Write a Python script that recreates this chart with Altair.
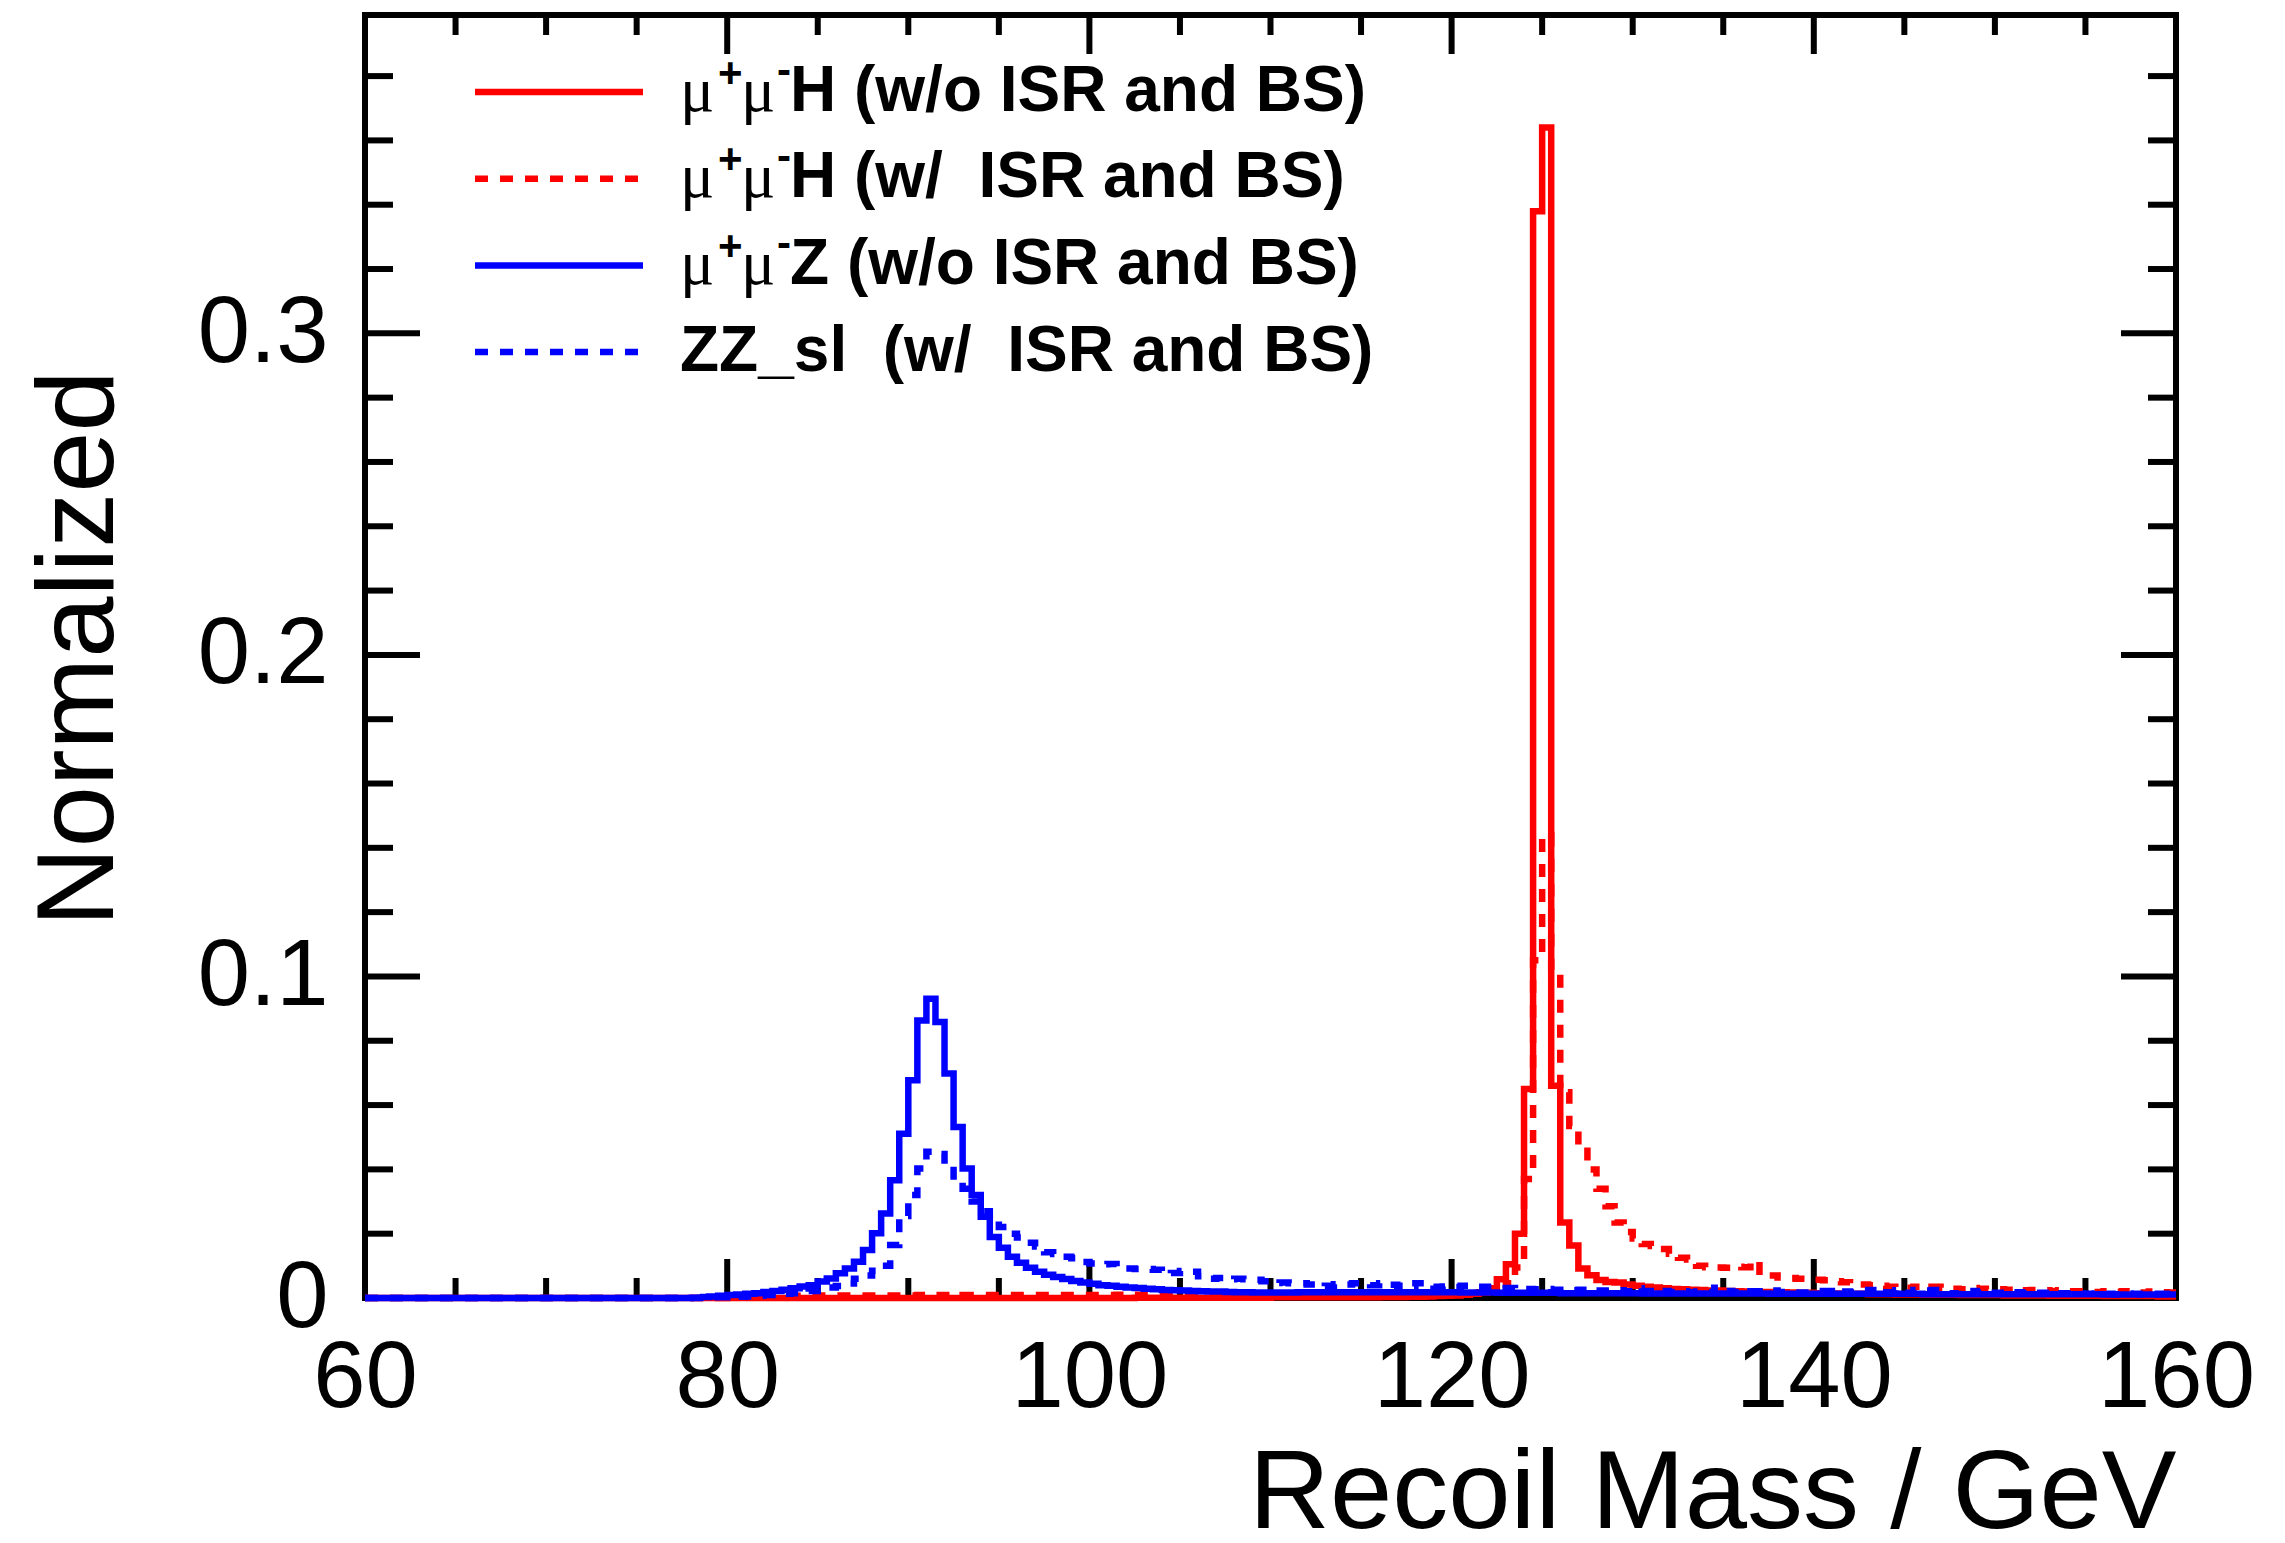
import altair as alt
import numpy as np
import pandas as pd

# ---------------- data (bin contents, 0.5 GeV bins from 60 to 160) ----------------
X_LO, X_HI, BIN_W = 60.0, 160.0, 0.5

mumuH_noISR = [
    0, 0, 0, 0, 0, 0, 0, 0, 0, 0,                                   # 60-65
    0, 0, 0, 0, 0, 0, 0, 0, 0, 0,                                   # 65-70
    0, 0, 0, 0, 0, 0, 0, 0, 0, 0,                                   # 70-75
    0, 0, 0, 0, 0, 0, 0, 0, 0, 0,                                   # 75-80
    0, 0, 0, 0, 0, 0, 0, 0, 0, 0,                                   # 80-85
    0, 0, 0, 0, 0, 0, 0, 0, 0, 0,                                   # 85-90
    0, 0, 0, 0, 0, 0, 0, 0, 0, 0,                                   # 90-95
    0, 0, 0, 0, 0, 0, 0, 0, 0, 0,                                   # 95-100
    0, 0, 0, 0, 0, 0.0001, 0.0001, 0.0001, 0.0001, 0.0001,          # 100-105
    0.0001, 0.0001, 0.0001, 0.0001, 0.0001, 0.0001, 0.0001, 0.0001, 0.0001, 0.0001,  # 105-110
    0.0002, 0.0002, 0.0002, 0.0002, 0.0002, 0.0002, 0.0002, 0.0002, 0.0002, 0.0002,  # 110-115
    0.0002, 0.0002, 0.0003, 0.0003, 0.0003, 0.0004, 0.0004, 0.0005, 0.0006, 0.0007,  # 115-120
    0.0008, 0.0010, 0.0013, 0.0018, 0.0030, 0.0058, 0.0105, 0.0200, 0.0650, 0.3380,  # 120-125
    0.3640, 0.0660, 0.0235, 0.0163, 0.0092, 0.0071, 0.0056, 0.0050, 0.0048, 0.0042,  # 125-130
    0.0038, 0.0035, 0.0033, 0.0030, 0.0028, 0.0027, 0.0026, 0.0025, 0.0023, 0.0023,  # 130-135
    0.0022, 0.0021, 0.0020, 0.0020, 0.0019, 0.0019, 0.0018, 0.0017, 0.0016, 0.0016,  # 135-140
    0.0015, 0.0015, 0.0014, 0.0014, 0.0013, 0.0013, 0.0012, 0.0012, 0.0012, 0.0011,  # 140-145
    0.0011, 0.0011, 0.0010, 0.0010, 0.0010, 0.0010, 0.0009, 0.0009, 0.0009, 0.0009,  # 145-150
    0.0009, 0.0008, 0.0008, 0.0008, 0.0008, 0.0008, 0.0007, 0.0007, 0.0007, 0.0007,  # 150-155
    0.0007, 0.0007, 0.0006, 0.0006, 0.0006, 0.0006, 0.0006, 0.0006, 0.0005, 0.0005,  # 155-160
]

mumuH_ISR = [
    0, 0, 0, 0, 0, 0, 0, 0, 0, 0,                                   # 60-65
    0, 0, 0, 0, 0, 0, 0, 0, 0, 0,                                   # 65-70
    0, 0, 0, 0, 0, 0, 0, 0, 0, 0,                                   # 70-75
    0, 0, 0, 0, 0, 0, 0, 0, 0, 0,                                   # 75-80
    0.0001, 0.0002, 0.0004, 0.0005, 0.0006, 0.0006, 0.0007, 0.0007, 0.0007, 0.0008,  # 80-85
    0.0008, 0.0008, 0.0008, 0.0008, 0.0008, 0.0008, 0.0008, 0.0008, 0.0008, 0.0008,  # 85-90
    0.0008, 0.0009, 0.0008, 0.0009, 0.0009, 0.0008, 0.0009, 0.0009, 0.0009, 0.0009,  # 90-95
    0.0009, 0.0009, 0.0009, 0.0009, 0.0009, 0.0009, 0.0009, 0.0009, 0.0009, 0.0009,  # 95-100
    0.0009, 0.0009, 0.0009, 0.0010, 0.0009, 0.0010, 0.0010, 0.0010, 0.0010, 0.0010,  # 100-105
    0.0010, 0.0010, 0.0010, 0.0010, 0.0010, 0.0010, 0.0010, 0.0010, 0.0010, 0.0010,  # 105-110
    0.0010, 0.0010, 0.0010, 0.0010, 0.0010, 0.0010, 0.0010, 0.0010, 0.0010, 0.0010,  # 110-115
    0.0010, 0.0010, 0.0011, 0.0011, 0.0011, 0.0011, 0.0012, 0.0012, 0.0012, 0.0013,  # 115-120
    0.0013, 0.0014, 0.0015, 0.0018, 0.0022, 0.0030, 0.0046, 0.0095, 0.0370, 0.1050,  # 120-125
    0.1440, 0.1020, 0.0640, 0.0535, 0.0470, 0.0400, 0.0340, 0.0285, 0.0235, 0.0205,  # 125-130
    0.0185, 0.0168, 0.0162, 0.0152, 0.0138, 0.0125, 0.0120, 0.0100, 0.0096, 0.0095,  # 130-135
    0.0094, 0.0097, 0.0096, 0.0114, 0.0068, 0.0070, 0.0064, 0.0062, 0.0060, 0.0058,  # 135-140
    0.0057, 0.0055, 0.0052, 0.0049, 0.0045, 0.0042, 0.0040, 0.0038, 0.0035, 0.0034,  # 140-145
    0.0032, 0.0035, 0.0033, 0.0035, 0.0032, 0.0029, 0.0027, 0.0031, 0.0029, 0.0028,  # 145-150
    0.0027, 0.0026, 0.0028, 0.0024, 0.0025, 0.0024, 0.0022, 0.0024, 0.0021, 0.0021,  # 150-155
    0.0020, 0.0019, 0.0021, 0.0018, 0.0021, 0.0019, 0.0017, 0.0020, 0.0018, 0.0017,  # 155-160
]

mumuZ_noISR = [
    0, 0, 0, 0, 0, 0, 0, 0, 0, 0,                                   # 60-65
    0, 0, 0, 0, 0, 0, 0, 0, 0, 0,                                   # 65-70
    0, 0, 0, 0, 0, 0, 0, 0, 0, 0,                                   # 70-75
    0, 0, 0, 0, 0, 0, 0.0001, 0.0003, 0.0005, 0.0007,               # 75-80
    0.0009, 0.0011, 0.0013, 0.0015, 0.0019, 0.0022, 0.0026, 0.0030, 0.0036, 0.0040,  # 80-85
    0.0051, 0.0061, 0.0077, 0.0092, 0.0113, 0.0149, 0.0201, 0.0263, 0.0366, 0.0511,  # 85-90
    0.0677, 0.0863, 0.0931, 0.0858, 0.0698, 0.0532, 0.0403, 0.0320, 0.0253, 0.0190,  # 90-95
    0.0156, 0.0128, 0.0110, 0.0094, 0.0082, 0.0072, 0.0065, 0.0059, 0.0053, 0.0048,  # 95-100
    0.0044, 0.0040, 0.0038, 0.0035, 0.0033, 0.0031, 0.0029, 0.0027, 0.0025, 0.0024,  # 100-105
    0.0023, 0.0022, 0.0021, 0.0020, 0.0020, 0.0019, 0.0018, 0.0018, 0.0017, 0.0017,  # 105-110
    0.0017, 0.0017, 0.0017, 0.0018, 0.0018, 0.0018, 0.0018, 0.0018, 0.0018, 0.0018,  # 110-115
    0.0018, 0.0018, 0.0018, 0.0018, 0.0018, 0.0018, 0.0018, 0.0018, 0.0018, 0.0018,  # 115-120
    0.0018, 0.0017, 0.0017, 0.0017, 0.0017, 0.0016, 0.0016, 0.0016, 0.0016, 0.0016,  # 120-125
    0.0016, 0.0016, 0.0015, 0.0015, 0.0015, 0.0015, 0.0015, 0.0015, 0.0015, 0.0015,  # 125-130
    0.0015, 0.0014, 0.0014, 0.0014, 0.0014, 0.0014, 0.0014, 0.0014, 0.0014, 0.0014,  # 130-135
    0.0014, 0.0014, 0.0014, 0.0014, 0.0014, 0.0013, 0.0013, 0.0013, 0.0013, 0.0013,  # 135-140
    0.0013, 0.0013, 0.0013, 0.0013, 0.0013, 0.0013, 0.0013, 0.0013, 0.0013, 0.0013,  # 140-145
    0.0013, 0.0013, 0.0012, 0.0012, 0.0012, 0.0012, 0.0012, 0.0012, 0.0012, 0.0012,  # 145-150
    0.0012, 0.0012, 0.0012, 0.0012, 0.0012, 0.0012, 0.0012, 0.0012, 0.0012, 0.0012,  # 150-155
    0.0012, 0.0012, 0.0011, 0.0011, 0.0011, 0.0011, 0.0011, 0.0011, 0.0011, 0.0011,  # 155-160
]

ZZsl_ISR = [
    0, 0, 0, 0, 0, 0, 0, 0, 0, 0,                                   # 60-65
    0, 0, 0, 0, 0, 0, 0, 0, 0, 0,                                   # 65-70
    0, 0, 0, 0, 0, 0, 0, 0, 0, 0,                                   # 70-75
    0, 0, 0, 0, 0, 0, 0, 0.0001, 0.0002, 0.0002,                    # 75-80
    0.0003, 0.0004, 0.0005, 0.0007, 0.0009, 0.0011, 0.0013, 0.0015, 0.0018, 0.0022,  # 80-85
    0.0027, 0.0033, 0.0037, 0.0045, 0.0060, 0.0070, 0.0085, 0.0100, 0.0165, 0.0255,  # 85-90
    0.0320, 0.0403, 0.0455, 0.0448, 0.0398, 0.0362, 0.0340, 0.0300, 0.0270, 0.0246,  # 90-95
    0.0221, 0.0200, 0.0188, 0.0172, 0.0160, 0.0142, 0.0137, 0.0128, 0.0124, 0.0112,  # 95-100
    0.0107, 0.0105, 0.0106, 0.0098, 0.0092, 0.0090, 0.0090, 0.0088, 0.0076, 0.0078,  # 100-105
    0.0084, 0.0082, 0.0068, 0.0060, 0.0062, 0.0058, 0.0060, 0.0058, 0.0057, 0.0052,  # 105-110
    0.0047, 0.0048, 0.0046, 0.0046, 0.0042, 0.0036, 0.0038, 0.0043, 0.0042, 0.0046,  # 110-115
    0.0044, 0.0040, 0.0046, 0.0041, 0.0038, 0.0036, 0.0046, 0.0040, 0.0035, 0.0036,  # 115-120
    0.0034, 0.0038, 0.0035, 0.0035, 0.0033, 0.0030, 0.0031, 0.0029, 0.0028, 0.0027,  # 120-125
    0.0028, 0.0026, 0.0025, 0.0024, 0.0026, 0.0028, 0.0023, 0.0022, 0.0024, 0.0021,  # 125-130
    0.0030, 0.0022, 0.0020, 0.0022, 0.0019, 0.0021, 0.0018, 0.0020, 0.0019, 0.0032,  # 130-135
    0.0022, 0.0019, 0.0018, 0.0021, 0.0020, 0.0023, 0.0019, 0.0018, 0.0017, 0.0016,  # 135-140
    0.0017, 0.0022, 0.0018, 0.0020, 0.0017, 0.0019, 0.0025, 0.0016, 0.0018, 0.0024,  # 140-145
    0.0016, 0.0025, 0.0023, 0.0025, 0.0024, 0.0015, 0.0023, 0.0022, 0.0016, 0.0015,  # 145-150
    0.0016, 0.0022, 0.0018, 0.0015, 0.0014, 0.0016, 0.0022, 0.0015, 0.0013, 0.0014,  # 150-155
    0.0013, 0.0014, 0.0013, 0.0012, 0.0014, 0.0013, 0.0012, 0.0012, 0.0013, 0.0012,  # 155-160
]

x_major = [60, 80, 100, 120, 140, 160]
x_minor = [65, 70, 75, 85, 90, 95, 105, 110, 115, 125, 130, 135, 145, 150, 155]
y_major = [0, 0.1, 0.2, 0.3]
y_minor = [0.02, 0.04, 0.06, 0.08, 0.12, 0.14, 0.16, 0.18,
           0.22, 0.24, 0.26, 0.28, 0.32, 0.34, 0.36, 0.38]

legend_rows = [
    ("H (w/o ISR and BS)", "#ff0000", [1, 0], True),
    ("H (w/\u00a0 ISR and BS)", "#ff0000", [13, 12], True),
    ("Z (w/o ISR and BS)", "#0000ff", [1, 0], True),
    ("ZZ_sl\u00a0 (w/\u00a0 ISR and BS)", "#0000ff", [13, 12], False),
]

# ---------------- layout ----------------
W, H = 1811, 1283
Y_MAX = 0.399
LW = 6.5
TW = 6
FONT = "Liberation Sans"

xs = alt.Scale(domain=[X_LO, X_HI], nice=False, zero=False)
ys = alt.Scale(domain=[0, Y_MAX], nice=False, zero=False)

xaxis = alt.Axis(
    values=x_major, ticks=False, tickSize=0, domain=False, grid=False,
    labelFont=FONT, labelFontSize=94, labelColor="black", labelPadding=108,
    labelBaseline="alphabetic", labelFlush=False, labelOverlap=False, labelBound=False,
    format="d",
    title="Recoil Mass / GeV", titleFont=FONT, titleFontSize=112, titleFontWeight="normal",
    titleColor="black", titleX=W, titleY=229, titleAlign="right", titleBaseline="alphabetic",
    titleAnchor="end",
)
yaxis = alt.Axis(
    values=y_major, ticks=False, tickSize=0, domain=False, grid=False,
    labelFont=FONT, labelFontSize=94, labelColor="black", labelPadding=37,
    labelAlign="right", labelBaseline="middle", labelFlush=False, labelOverlap=False,
    labelBound=False, format="~g",
    title="Normalized", titleFont=FONT, titleFontSize=110, titleFontWeight="normal",
    titleColor="black", titleX=-253, titleY=633, titleAngle=270, titleAlign="center",
    titleBaseline="alphabetic",
)

edges = np.round(X_LO + BIN_W * np.arange(len(mumuH_noISR) + 1), 3)


def hist_df(vals):
    return pd.DataFrame({"x": edges, "y": list(vals) + [vals[-1]]})


def hist_layer(vals, color, dash):
    return alt.Chart(hist_df(vals)).mark_line(
        interpolate="step-after", color=color, strokeWidth=LW, strokeDash=dash,
        strokeCap="butt", strokeJoin="miter",
    ).encode(
        x=alt.X("x:Q", scale=xs, axis=xaxis),
        y=alt.Y("y:Q", scale=ys, axis=yaxis),
    )


def xtick_layer(vals, y0, y1):
    return alt.Chart(pd.DataFrame({"v": vals})).mark_rule(
        color="black", strokeWidth=TW, strokeCap="butt"
    ).encode(x=alt.X("v:Q", scale=xs, axis=xaxis), y=alt.value(y0), y2=alt.value(y1))


def ytick_layer(vals, x0, x1):
    return alt.Chart(pd.DataFrame({"v": vals})).mark_rule(
        color="black", strokeWidth=TW, strokeCap="butt"
    ).encode(y=alt.Y("v:Q", scale=ys, axis=yaxis), x=alt.value(x0), x2=alt.value(x1))


XT_MAJ, XT_MIN = 39, 20
YT_MAJ, YT_MIN = 55, 28

ticks = [
    xtick_layer(x_major, H, H - XT_MAJ),
    xtick_layer(x_minor, H, H - XT_MIN),
    xtick_layer(x_major, 0, XT_MAJ),
    xtick_layer(x_minor, 0, XT_MIN),
    ytick_layer(y_major, 0, YT_MAJ),
    ytick_layer(y_minor, 0, YT_MIN),
    ytick_layer(y_major, W, W - YT_MAJ),
    ytick_layer(y_minor, W, W - YT_MIN),
]

hists = [
    hist_layer(mumuH_noISR, "#ff0000", [1, 0]),
    hist_layer(mumuH_ISR, "#ff0000", [13, 12]),
    hist_layer(mumuZ_noISR, "#0000ff", [1, 0]),
    hist_layer(ZZsl_ISR, "#0000ff", [13, 12]),
]

# ---------------- legend ----------------
one = pd.DataFrame({"a": [0]})
LEG_X0, LEG_X1 = 110, 278
ROW_Y0, ROW_DY = 77, 86.7
TXT_X = 315


def txt(text, x, y, size, weight, font=FONT):
    return alt.Chart(one).mark_text(
        text=text, align="left", baseline="alphabetic", font=font,
        fontSize=size, fontWeight=weight, color="black",
    ).encode(x=alt.value(x), y=alt.value(y))


legend = []
for i, (label, color, dash, has_mu) in enumerate(legend_rows):
    ly = ROW_Y0 + ROW_DY * i
    base = ly + 18.5
    legend.append(
        alt.Chart(one).mark_rule(color=color, strokeWidth=LW, strokeDash=dash, strokeCap="butt")
        .encode(x=alt.value(LEG_X0), x2=alt.value(LEG_X1), y=alt.value(ly))
    )
    if has_mu:
        legend.append(txt("\u03bc", TXT_X, base, 64, "normal", "Liberation Serif"))
        legend.append(txt("+", TXT_X + 38, base - 24, 42, "bold"))
        legend.append(txt("\u03bc", TXT_X + 61, base, 64, "normal", "Liberation Serif"))
        legend.append(txt("-", TXT_X + 97, base - 27, 42, "bold"))
        legend.append(txt(label, TXT_X + 110, base, 64, "bold"))
    else:
        legend.append(txt(label, TXT_X, base, 64, "bold"))

chart = alt.layer(*ticks, *hists, *legend).properties(
    width=W, height=H,
    padding={"left": 357, "top": 7, "right": 95, "bottom": 235},
    autosize=alt.AutoSizeParams(type="none"),
    background="white",
).configure_view(stroke="black", strokeWidth=6)

chart.save("out.html", embed_options={"renderer": "svg", "actions": False})
